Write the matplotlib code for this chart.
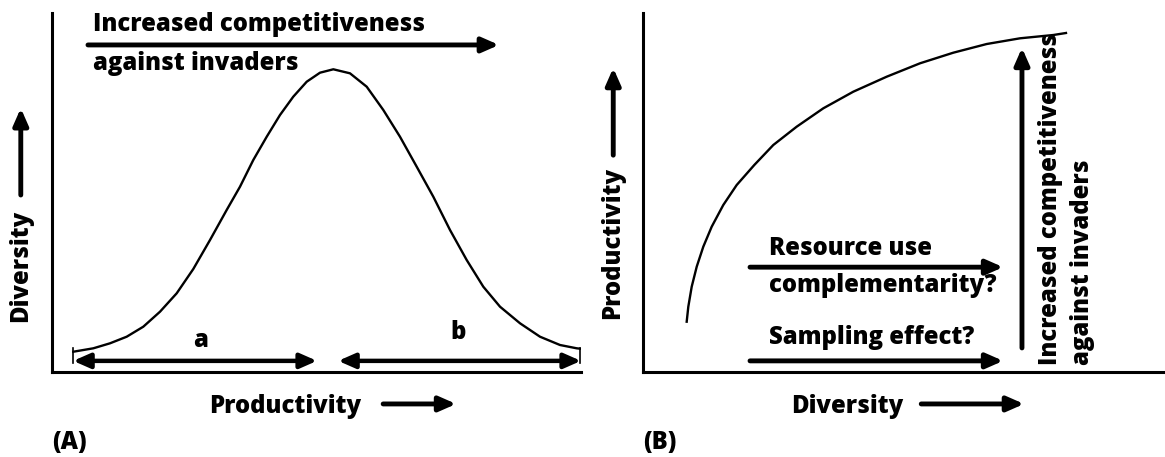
import numpy as np
import matplotlib
matplotlib.use("Agg")
import matplotlib.pyplot as plt

# panel A: hump-shaped diversity vs productivity (axis units 0-100)
prod_a = [4.03, 7.81, 10.96, 14.12, 17.26, 20.42, 23.57, 26.71, 29.87, 33.02,
          35.54, 38.05, 40.59, 43.10, 45.61, 48.15, 50.66, 53.18, 56.33, 59.49,
          62.63, 65.78, 68.94, 72.08, 75.24, 78.39, 81.53, 84.69, 88.47, 92.25,
          96.03, 99.19, 99.8]
div_a = [5.65, 6.60, 7.99, 9.83, 12.62, 16.80, 21.92, 28.69, 36.77, 45.13,
         51.62, 59.05, 65.54, 71.59, 76.69, 80.86, 83.37, 84.32, 83.20, 79.47,
         72.98, 65.54, 57.19, 48.83, 39.55, 31.20, 23.76, 18.19, 13.57, 9.83,
         7.52, 6.60, 6.5]

# panel B: saturating productivity vs diversity
div_b = [8.37, 8.68, 9.33, 10.29, 11.55, 13.16, 15.38, 17.95, 21.32, 24.96,
         29.44, 34.54, 40.29, 46.69, 53.07, 59.44, 65.84, 72.22, 78.60, 81.03]
prod_b = [14.01, 18.19, 23.76, 29.33, 34.90, 40.47, 46.52, 52.09, 57.66, 63.23,
          68.33, 73.45, 78.08, 82.26, 85.99, 88.94, 91.36, 92.95, 93.87, 94.43]

range_a = [4.0, 50.1]    # arrow "a"
range_b = [54.1, 100.0]  # arrow "b"

plt.rcParams["font.family"] = ["Open Sans", "DejaVu Sans"]
TXT = dict(fontsize=17.2, fontweight=800)

fig = plt.figure(figsize=(11.65, 4.57), dpi=100)
ax1 = fig.add_axes([52 / 1165, 85 / 457, 529 / 1165, 359 / 457])
ax2 = fig.add_axes([643 / 1165, 85 / 457, 522 / 1165, 359 / 457])


def style(ax):
    ax.set_xlim(0, 100)
    ax.set_ylim(0, 100)
    for s in ["top", "right"]:
        ax.spines[s].set_visible(False)
    for s in ["left", "bottom"]:
        ax.spines[s].set_linewidth(2.2)
    ax.set_xticks([])
    ax.set_yticks([])


def arrow(ax, tail, tip, style_="-|>", lw=3.5):
    ax.annotate("", xy=tip, xytext=tail, annotation_clip=False,
                arrowprops=dict(arrowstyle=style_ + ",head_length=0.5,head_width=0.22",
                                lw=lw, color="black", shrinkA=0, shrinkB=0,
                                mutation_scale=20))


style(ax1)
style(ax2)

# ---- panel A
ax1.plot(prod_a, div_a, color="black", lw=1.7, solid_joinstyle="round")
arrow(ax1, (range_a[1], 3.1), (range_a[0], 3.1), "<|-|>", lw=3.2)
arrow(ax1, (range_b[1], 3.1), (range_b[0], 3.1), "<|-|>", lw=3.2)
for xe in [prod_a[0], prod_a[-1]]:
    ax1.plot([xe, xe], [2.6, 6.8], color="black", lw=1.2, clip_on=False)
ax1.text(28.0, 8.9, "a", ha="center", va="center", **TXT)
ax1.text(76.7, 10.9, "b", ha="center", va="center", **TXT)

arrow(ax1, (6.8, 91.1), (84.5, 91.1))
ax1.text(7.8, 96.9, "Increased competitiveness", ha="left", va="center", **TXT)
ax1.text(7.8, 85.8, "against invaders", ha="left", va="center", **TXT)

ax1.text(-5.9, 29.5, "Diversity", rotation=90, ha="center", va="center", **TXT)
arrow(ax1, (-5.9, 49.3), (-5.9, 73.5))
ax1.text(44.0, -9.5, "Productivity", ha="center", va="center", **TXT)
arrow(ax1, (62.6, -8.9), (76.4, -8.9))
ax1.text(0, -19.5, "(A)", ha="left", va="center", **TXT)

# ---- panel B
ax2.plot(div_b, prod_b, color="black", lw=1.7, solid_joinstyle="round")
arrow(ax2, (20.5, 29.2), (69.0, 29.2))
arrow(ax2, (20.5, 3.1), (69.0, 3.1))
ax2.text(24.1, 34.3, "Resource use", ha="left", va="center", **TXT)
ax2.text(24.1, 24.0, "complementarity?", ha="left", va="center", **TXT)
ax2.text(24.1, 9.7, "Sampling effect?", ha="left", va="center", **TXT)

arrow(ax2, (72.6, 6.7), (72.6, 90.3))
ax2.text(78.0, 1.9, "Increased competitiveness", rotation=90,
         ha="center", va="bottom", **TXT)
ax2.text(84.1, 1.9, "against invaders", rotation=90,
         ha="center", va="bottom", **TXT)

ax2.text(-5.9, 35.9, "Productivity", rotation=90, ha="center", va="center", **TXT)
arrow(ax2, (-5.7, 60.4), (-5.7, 84.7))
ax2.text(39.1, -9.5, "Diversity", ha="center", va="center", **TXT)
arrow(ax2, (53.3, -8.9), (73.0, -8.9))
ax2.text(0, -19.5, "(B)", ha="left", va="center", **TXT)

fig.savefig("out.png", dpi=100)
